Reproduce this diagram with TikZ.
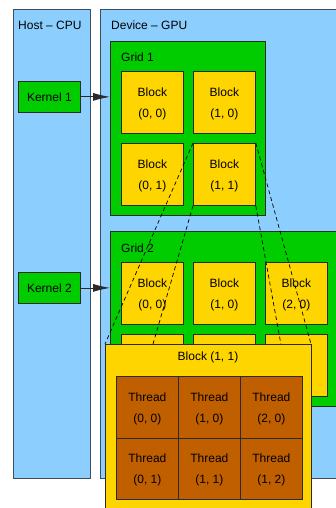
\documentclass[tikz,border=0pt]{standalone}
\usepackage{fontspec}
\setmainfont{Liberation Sans}
\usetikzlibrary{arrows.meta}
\definecolor{skyb}{HTML}{8CCFFF}
\definecolor{grn}{HTML}{00CC00}
\definecolor{gold}{HTML}{FFD500}
\definecolor{brn}{HTML}{BF5F00}
\definecolor{edge}{HTML}{2A2A2A}
\definecolor{hostedge}{HTML}{3E4E5E}
\tikzset{
  panel/.style={draw=hostedge, fill=skyb, line width=1pt, anchor=north west, inner sep=0pt},
  gridbox/.style={draw=edge, fill=grn, line width=0.8pt, anchor=north west, inner sep=0pt},
  kern/.style={draw=edge, fill=grn, line width=0.8pt, anchor=north west, inner sep=0pt,
    minimum width=62pt, minimum height=31pt, font=\fontsize{12}{14}\selectfont},
  blk/.style={draw=edge, fill=gold, line width=0.8pt, anchor=north west, inner sep=0pt,
    minimum width=62pt, minimum height=62pt, align=center, font=\fontsize{12}{21}\selectfont,
    text depth=-1.5pt},
  thr/.style={draw=edge, fill=brn, line width=0.8pt, anchor=north west, inner sep=0pt,
    minimum width=62pt, minimum height=61.5pt, align=center, font=\fontsize{12}{21}\selectfont,
    text depth=-1.5pt},
  lbl/.style={anchor=base west, inner sep=0pt, font=\fontsize{12}{14}\selectfont},
  arr/.style={draw=edge, line width=0.8pt, -{Latex[length=17pt,width=8pt]}},
  corner/.style={draw=black, line width=0.7pt, dash pattern=on 4pt off 3pt},
}
\begin{document}
\begin{tikzpicture}[x=1pt,y=-1pt]
\useasboundingbox (0,0) rectangle (336,508);
\begin{scope}
\clip (0,0) rectangle (336,508);
% panels
\node[panel, minimum width=77pt, minimum height=469pt] (host) at (13,9) {};
\node[panel, minimum width=250pt, minimum height=469pt] (dev) at (100,9) {};
\node[lbl] (hostl) at (18,30) {Host -- CPU};
\node[lbl] (devl) at (111,30) {Device -- GPU};
% kernels
\node[kern] (k1) at (18,81) {Kernel 1};
\node[kern] (k2) at (18,272) {Kernel 2};
% grid 1
\node[gridbox, minimum width=155pt, minimum height=174pt] (g1) at (110,41) {};
\node[lbl] (g1l) at (121,61.5) {Grid 1};
\node[blk] (a00) at (121,71) {Block\\(0, 0)};
\node[blk] (a10) at (193,71) {Block\\(1, 0)};
\node[blk] (a01) at (121,143) {Block\\(0, 1)};
\node[blk] (a11) at (193,143) {Block\\(1, 1)};
% grid 2
\node[gridbox, minimum width=230pt, minimum height=175pt] (g2) at (110,231) {};
\node[lbl] (g2l) at (121,252) {Grid 2};
\node[blk] (b00) at (121,262) {Block\\(0, 0)};
\node[blk] (b10) at (193,262) {Block\\(1, 0)};
\node[blk] (b20) at (265,262) {Block\\(2, 0)};
\node[blk] (b01) at (121,334) {};
\node[blk] (b11) at (193,334) {};
\node[blk] (b21) at (265,334) {};
% arrows
\draw[arr] (k1.east) -- (k1.east -| g1.west);
\draw[arr] (k2.east) -- (k2.east -| g2.west);
% big block
\coordinate (bbnw) at (105,344);
\coordinate (bbne) at (311,344);
\coordinate (bbsw) at (105,510);
\coordinate (bbse) at (311,510);
\draw[corner] (a11.north west) -- (bbnw);
\draw[corner] (a11.south west) -- (bbsw);
\draw[corner] (a11.north east) -- (bbne);
\draw[corner] (a11.south east) -- (bbse);
\node[draw=edge, fill=gold, line width=0.8pt, anchor=north west, inner sep=0pt,
  minimum width=206pt, minimum height=166pt] (bb) at (bbnw) {};
\node[anchor=base, inner sep=0pt, font=\fontsize{12}{14}\selectfont] (bbl) at (208,360.5) {Block (1, 1)};
\node[thr] (t00) at (116,376) {Thread\\(0, 0)};
\node[thr] (t10) at (178,376) {Thread\\(1, 0)};
\node[thr] (t20) at (240,376) {Thread\\(2, 0)};
\node[thr] (t01) at (116,437.5) {Thread\\(0, 1)};
\node[thr] (t11) at (178,437.5) {Thread\\(1, 1)};
\node[thr] (t21) at (240,437.5) {Thread\\(1, 2)};
\end{scope}
\end{tikzpicture}
\end{document}
